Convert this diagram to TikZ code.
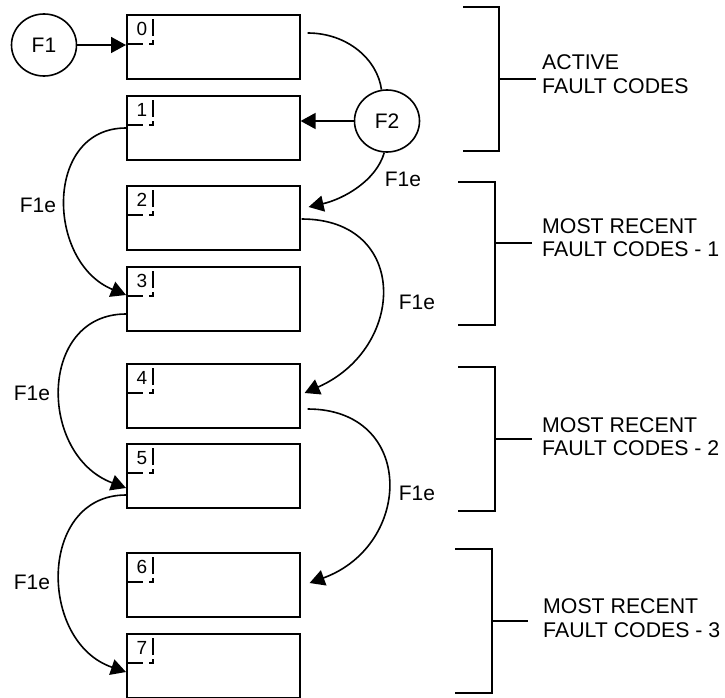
\documentclass[tikz,border=0pt]{standalone}
\usepackage{fontspec}
\setmainfont{Liberation Sans}
\usetikzlibrary{arrows.meta,calc,shapes.geometric}
\begin{document}
\begin{tikzpicture}[x=1pt,y=-1pt,
  fbox/.style={draw,line width=1.6pt,minimum width=173pt,minimum height=64pt,inner sep=0pt,anchor=north west},
  circ/.style={draw,ellipse,line width=1.6pt,minimum width=65pt,minimum height=62pt,inner sep=0pt,font=\fontsize{21}{24}\selectfont},
  arr/.style={line width=1.6pt,-{Triangle[length=15pt,width=16pt]}},
  ln/.style={line width=1.6pt},
  lbl/.style={font=\fontsize{21}{24}\selectfont,inner sep=0pt},
  idx/.style={font=\fontsize{19}{20}\selectfont,inner sep=0pt},
  idxbox/.style={line width=1.2pt,dash pattern=on 17pt off 6pt on 8pt off 4pt on 17pt off 3pt on 2pt},
  side/.style={font=\fontsize{21.3}{23.5}\selectfont,align=left,anchor=west,inner sep=0pt}
]
\useasboundingbox (0,0) rectangle (725,698);

% register boxes
\foreach \i/\t in {0/14,1/95,2/185,3/266,4/363,5/443,6/552,7/633} {
  \node[fbox] (b\i) at (126,\t) {};
  \node[idx] (n\i) at ($(b\i.north west)+(16,15)$) {\i};
  \draw[idxbox] ($(b\i.north west)+(0,30)$) -- ++(27,0) -- ++(0,-30);
}

% events
\node[circ] (F1) at (44,45) {F1};
\node[circ] (F2) at (387,121) {F2};

\draw[arr] (F1.east) -- (F1.east -| b0.west);
\draw[arr] (F2.west) -- (F2.west -| b1.east);
\draw[ln] ($(b0.north east)+(7,19)$) .. controls +(40,0) and +(-4,-30) .. (F2.100);
\draw[arr] (F2.265) .. controls +(-8,28) and +(35,-8) .. ($(b2.north east)+(8,22)$);

% left shifts
\draw[arr] ($(b1.north west)+(0,33)$) .. controls +(-82,0) and +(-80,-33) .. ($(b3.north west)+(0,29)$);
\draw[arr] ($(b3.north west)+(0,48)$) .. controls +(-88,0) and +(-88,-33) .. ($(b5.north west)+(0,45)$);
\draw[arr] ($(b5.north west)+(0,52)$) .. controls +(-88,0) and +(-88,-30) .. ($(b7.north west)+(0,39)$);

% right shifts
\draw[arr] ($(b2.north east)+(1,34)$) .. controls +(108,0) and +(102,-45) .. ($(b4.north east)+(4,30)$);
\draw[arr] ($(b4.north east)+(7,46)$) .. controls +(108,0) and +(104,-38) .. ($(b6.north east)+(9,31)$);

% labels
\node[lbl] (e0) at (403,179) {F1e};
\node[lbl] (e1) at (38,205) {F1e};
\node[lbl] (e2) at (417,302) {F1e};
\node[lbl] (e3) at (32,393) {F1e};
\node[lbl] (e4) at (417,493) {F1e};
\node[lbl] (e5) at (32,582) {F1e};

% brackets
\draw[ln] (463,7) -- (499,7) -- (499,151) -- (463,151);
\draw[ln] (499,79) -- (536,79);
\node[side] (g1) at (542,74) {ACTIVE\\FAULT CODES};

\draw[ln] (458,182) -- (495,182) -- (495,325) -- (458,325);
\draw[ln] (495,243) -- (532,243);
\node[side] (g2) at (542,237.5) {MOST RECENT\\FAULT CODES - 1};

\draw[ln] (458,367) -- (495,367) -- (495,511) -- (458,511);
\draw[ln] (495,439) -- (532,439);
\node[side] (g3) at (542,436.5) {MOST RECENT\\FAULT CODES - 2};

\draw[ln] (455,549) -- (492,549) -- (492,693) -- (455,693);
\draw[ln] (492,621) -- (528,621);
\node[side] (g4) at (543,618) {MOST RECENT\\FAULT CODES - 3};
\end{tikzpicture}
\end{document}
